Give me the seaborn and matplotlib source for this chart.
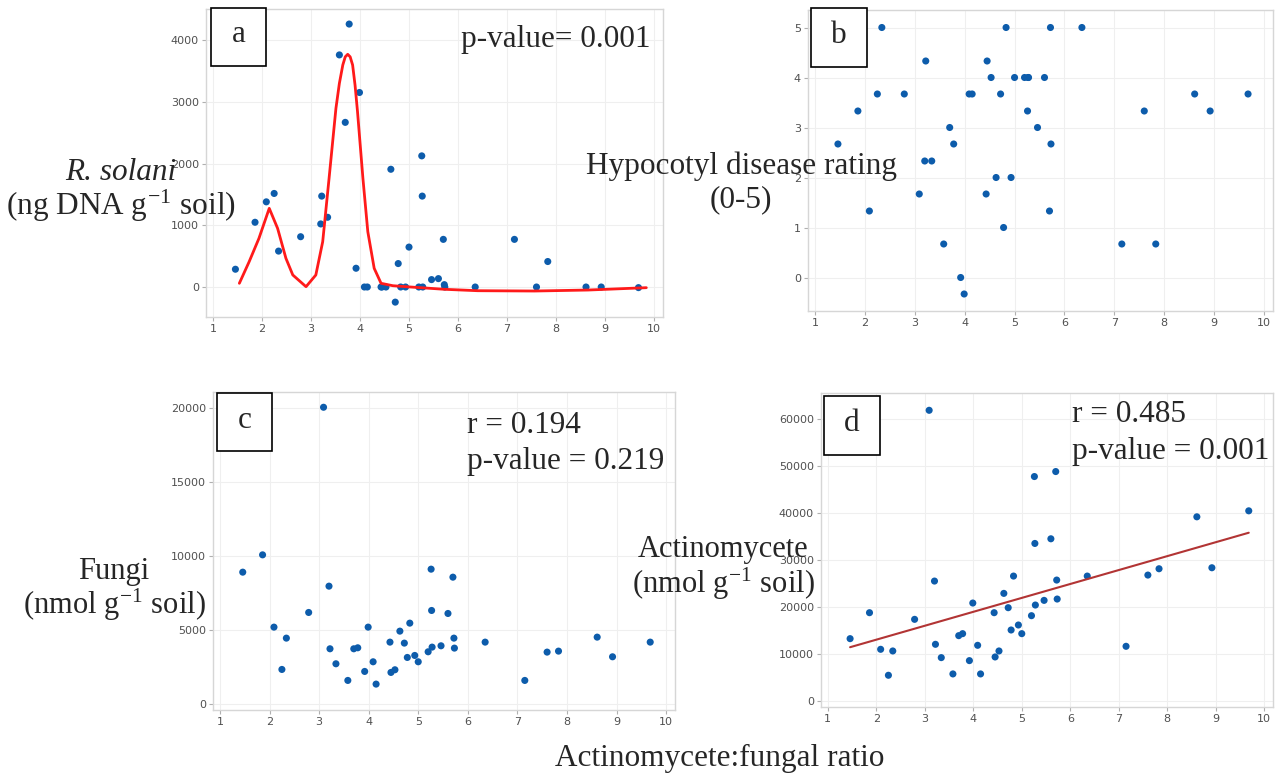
import numpy as np
import pandas as pd
import seaborn as sns
import matplotlib.pyplot as plt
from matplotlib.patches import Rectangle

# Actinomycete:fungal ratio for each soil sample (shared x of all panels)
ratio = [1.46, 1.86, 2.09, 2.25, 2.34, 2.79, 3.09, 3.20, 3.22, 3.34,
         3.58, 3.70, 3.78, 3.92, 3.99, 4.09, 4.15, 4.43, 4.45, 4.53,
         4.63, 4.72, 4.78, 4.83, 4.93, 5.00, 5.20, 5.26, 5.27, 5.28,
         5.46, 5.60, 5.70, 5.72, 5.73, 6.35, 7.15, 7.60, 7.83, 8.61,
         8.92, 9.68]

# R. solani DNA (ng DNA g-1 soil); NaN = not quantified
rsolani = [288, 1049, 1380, 1516, 582, 815, np.nan, 1022, 1473, 1130,
           3761, 2668, 4261, 304, 3152, 0, 0, 0, 0, 0,
           1908, -245, 380, 0, 0, 647, 0, 2125, 1473, 0,
           120, 136, 772, 38, 0, 0, 772, 0, 413, 0,
           0, -10]

# Hypocotyl disease rating (0-5)
disease = [2.67, 3.33, 1.33, 3.67, 5.00, 3.67, 1.67, 2.33, 4.33, 2.33,
           0.67, 3.00, 2.67, 0.00, -0.33, 3.67, 3.67, 1.67, 4.33, 4.00,
           2.00, 3.67, 1.00, 5.00, 2.00, 4.00, 4.00, 3.33, 4.00, 4.00,
           3.00, 4.00, 1.33, 5.00, 2.67, 5.00, 0.67, 3.33, 0.67, 3.67,
           3.33, 3.67]

# Fungal PLFA (nmol g-1 soil)
fungi = [8919, 10090, 5203, 2342, 4459, 6194, 20068, 7973, 3739, 2725,
         1599, 3739, 3806, 2207, 5203, 2860, 1351, 4189, 2140, 2320,
         4932, 4122, 3153, 5473, 3288, 2860, 3536, 9122, 6329, 3851,
         3941, 6126, 8581, 4459, 3784, 4189, 1599, 3514, 3581, 4527,
         3198, 4189]

# Actinomycete PLFA (nmol g-1 soil)
actino = [13262, 18794, 10993, 5461, 10638, 17376, 61915, 25532, 12057, 9220,
          5745, 13901, 14326, 8582, 20851, 11844, 5745, 18794, 9362, 10638,
          22907, 19858, 15106, 26596, 16170, 14326, 18156, 47801, 33546, 20426,
          21418, 34539, 48865, 25745, 21702, 26596, 11631, 26809, 28156, 39220,
          28369, 40496]

# Nonlinear fit of R. solani against the ratio
fit_x = [1.54, 1.74, 1.94, 2.15, 2.32, 2.49, 2.63, 2.90, 3.10, 3.24,
         3.37, 3.51, 3.58, 3.65, 3.70, 3.75, 3.80, 3.85, 3.90, 3.95,
         4.06, 4.16, 4.29, 4.43, 4.67, 4.94, 5.72, 6.40, 7.56, 8.65, 9.84]
fit_y = [60, 410, 789, 1275, 951, 465, 195, 5, 195, 734,
         1762, 2896, 3300, 3598, 3730, 3771, 3730, 3598, 3270, 2841,
         1762, 896, 303, 60, 21, 5, -37, -60, -65, -49, -11]

xticks = [1, 2, 3, 4, 5, 6, 7, 8, 9, 10]
a_yticks = [0, 1000, 2000, 3000, 4000]
b_yticks = [0, 1, 2, 3, 4, 5]
c_yticks = [0, 5000, 10000, 15000, 20000]
d_yticks = [0, 10000, 20000, 30000, 40000, 50000, 60000]

df = pd.DataFrame({"ratio": ratio, "rsolani": rsolani, "disease": disease,
                   "fungi": fungi, "actino": actino})
fit = pd.DataFrame({"x": fit_x, "y": fit_y})

sns.set_theme(style="white")
plt.rcParams["font.family"] = ["Liberation Serif", "DejaVu Serif"]
plt.rcParams["mathtext.fontset"] = "stix"

W, H = 1277, 774
fig = plt.figure(figsize=(W / 100, H / 100), dpi=100)


def rect(l, t, r, b):
    return [l / W, 1 - b / H, (r - l) / W, (b - t) / H]


def fxy(x, y):
    return x / W, 1 - y / H


ax_a = fig.add_axes(rect(206, 9, 663, 317))
ax_b = fig.add_axes(rect(808, 10, 1273, 311))
ax_c = fig.add_axes(rect(213, 392, 675, 710))
ax_d = fig.add_axes(rect(821, 393, 1273, 707))

DOT = "#0d5cab"
panels = [
    (ax_a, "rsolani", a_yticks, (-486, 4505)),
    (ax_b, "disease", b_yticks, (-0.67, 5.35)),
    (ax_c, "fungi", c_yticks, (-400, 21100)),
    (ax_d, "actino", d_yticks, (-1300, 65600)),
]
for ax, col, yt, ylim in panels:
    ax.grid(True, color="#efefef", lw=0.8, zorder=0)
    ax.set_axisbelow(True)
    sns.scatterplot(data=df, x="ratio", y=col, ax=ax, color=DOT, s=26,
                    edgecolor="none", linewidth=0, zorder=3)
    ax.set_xlim(0.86, 10.18)
    ax.set_ylim(*ylim)
    ax.set_xticks(xticks)
    ax.set_yticks(yt)
    ax.set_xlabel("")
    ax.set_ylabel("")
    for sp in ax.spines.values():
        sp.set_color("#d6d6d6")
        sp.set_linewidth(1.0)
    ax.tick_params(axis="both", which="major", bottom=True, left=True,
                   length=3, width=0.8, color="#b0b0b0", pad=2,
                   labelsize=8, labelcolor="#505050")
    for t in ax.get_xticklabels() + ax.get_yticklabels():
        t.set_fontfamily("DejaVu Sans")

# smoothed response in panel a
sns.lineplot(data=fit, x="x", y="y", ax=ax_a, color="#ff1a1a", lw=2.0,
             zorder=4, sort=False)
ax_a.set_xlabel("")
ax_a.set_ylabel("")

# least-squares line in panel d
sns.regplot(data=df, x="ratio", y="actino", ax=ax_d, scatter=False, ci=None,
            color="#b23434", line_kws={"lw": 1.5, "zorder": 4})
ax_d.set_xlabel("")
ax_d.set_ylabel("")

FS = 22.5
# panel letters in boxes
for (l, t, r, b), letter in [((211, 8, 266, 66), "a"), ((811, 8, 867, 67), "b"),
                             ((217, 393, 272, 451), "c"), ((824, 396, 880, 455), "d")]:
    x0, y0 = fxy(l, b)
    fig.patches.append(Rectangle((x0, y0), (r - l) / W, (b - t) / H,
                                 transform=fig.transFigure, facecolor="white",
                                 edgecolor="black", lw=1.2, zorder=5))
    cx, cy = fxy((l + r) / 2, (t + b) / 2 - 2)
    fig.text(cx, cy, letter, fontsize=FS, ha="center", va="center", zorder=6)

# axis titles
def label(x, y, s, size=FS, **kw):
    fig.text(*fxy(x, y), s, fontsize=size, ha="center", va="center", zorder=6, **kw)

label(121, 172, "R. solani", style="italic")
label(121, 206, "(ng DNA g$^{\\mathregular{-1}}$ soil)")
label(741, 166, "Hypocotyl disease rating")
label(741, 200, "(0-5)")
label(114, 572, "Fungi", size=22)
label(114, 605, "(nmol g$^{\\mathregular{-1}}$ soil)", size=22)
label(723, 550, "Actinomycete", size=22)
label(723, 584, "(nmol g$^{\\mathregular{-1}}$ soil)", size=22)
label(720, 758, "Actinomycete:fungal ratio")

# statistics
def stat(x, y, s):
    fig.text(*fxy(x, y), s, fontsize=FS, ha="left", va="center", zorder=6)

stat(461, 40, "p-value= 0.001")
stat(467, 425, "r = 0.194")
stat(467, 462, "p-value = 0.219")
stat(1072, 415, "r = 0.485")
stat(1072, 452, "p-value = 0.001")

fig.savefig("out.png", dpi=100, facecolor="white")
